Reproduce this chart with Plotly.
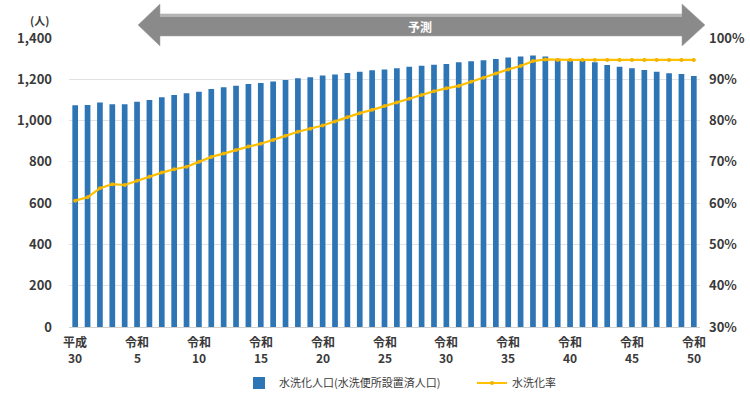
import plotly.graph_objects as go

# Fiscal years: 平成30, then 令和1 … 令和50
years = ["平成30"] + [f"令和{i}" for i in range(1, 51)]

# 水洗化人口 (people connected to flush toilets)
flush_population = [
    1074, 1076, 1087, 1079, 1079, 1091, 1100, 1113, 1124, 1132,
    1140, 1153, 1161, 1169, 1177, 1182, 1189, 1197, 1205, 1210,
    1218, 1223, 1231, 1237, 1244, 1248, 1253, 1261, 1266, 1271,
    1274, 1282, 1287, 1292, 1298, 1305, 1310, 1315, 1310, 1299,
    1293, 1290, 1282, 1269, 1261, 1253, 1245, 1237, 1229, 1226,
    1216,
]

# 水洗化率 (%)
flush_rate = [
    60.6, 61.4, 63.6, 64.6, 64.4, 65.4, 66.4, 67.4, 68.2, 68.8,
    70.0, 71.2, 72.0, 72.9, 73.7, 74.4, 75.3, 76.3, 77.3, 78.0,
    78.8, 79.8, 80.8, 81.8, 82.6, 83.5, 84.4, 85.3, 86.2, 87.1,
    87.8, 88.4, 89.4, 90.4, 91.4, 92.4, 93.2, 94.4, 94.8, 94.7,
    94.7, 94.7, 94.7, 94.7, 94.7, 94.7, 94.7, 94.7, 94.7, 94.7,
    94.7,
]

# labelled years: era name on the first row, year number on the second
tick_years = years[::5]
tick_era = ["平成"] + ["令和"] * 10
tick_num = ["30"] + [str(i) for i in range(5, 51, 5)]

left_ticks = [0, 200, 400, 600, 800, 1000, 1200, 1400]
right_ticks = [30, 40, 50, 60, 70, 80, 90, 100]
right_text = [f"{v}%" for v in right_ticks]

FONT = "Noto Sans CJK JP"
TEXT = "#3A3A3A"

# plot-area geometry in pixels (used to place the forecast arrow)
W, H = 750, 404
L, R, T, B = 69, 50, 38, 77
pw, ph = W - L - R, H - T - B


def px(x):
    return (x - L) / pw


def py(y):
    return (H - B - y) / ph


fig = go.Figure()

fig.add_trace(go.Bar(
    x=years, y=flush_population,
    name="水洗化人口(水洗便所設置済人口)",
    marker=dict(color="#2E75B6", line=dict(width=0)),
    yaxis="y",
))

fig.add_trace(go.Scatter(
    x=years, y=flush_rate,
    name="水洗化率",
    mode="lines+markers",
    line=dict(color="#FFC000", width=2.2),
    marker=dict(color="#F2B200", size=4),
    yaxis="y2",
))

# double-headed forecast arrow above the plot
pts = [(138, 25), (160, 4), (160, 14), (682, 14), (682, 4), (705, 25),
       (682, 46), (682, 36), (160, 36), (160, 46)]
path = "M " + " L ".join(f"{px(x):.4f},{py(y):.4f}" for x, y in pts) + " Z"
fig.add_shape(type="path", path=path, xref="paper", yref="paper",
              fillcolor="#8A8A8A", line=dict(color="#A0A0A0", width=0.5),
              layer="below")
# lighter top edge of the shaft
fig.add_shape(type="rect", xref="paper", yref="paper",
              x0=px(160), x1=px(682), y0=py(17), y1=py(14),
              fillcolor="#B4B4B4", line=dict(width=0), layer="below")

fig.add_annotation(text="<b>予測</b>", x=px(420), y=py(26), xref="paper",
                   yref="paper", showarrow=False, xanchor="center",
                   yanchor="middle",
                   font=dict(family=FONT, size=12, color="white"))
fig.add_annotation(text="(人)", x=px(39), y=py(20), xref="paper",
                   yref="paper", showarrow=False, xanchor="center",
                   yanchor="middle",
                   font=dict(family=FONT, size=11, color=TEXT, weight="bold"))

# two-row year labels under the axis
for yr, era, num in zip(tick_years, tick_era, tick_num):
    fig.add_annotation(text=era, x=yr, y=py(341), xref="x", yref="paper",
                       showarrow=False, yanchor="middle",
                       font=dict(family=FONT, size=12, color=TEXT,
                                 weight="bold"))
    fig.add_annotation(text=num, x=yr, y=py(357), xref="x", yref="paper",
                       showarrow=False, yanchor="middle",
                       font=dict(family=FONT, size=12, color=TEXT,
                                 weight="bold"))

fig.update_layout(
    width=W, height=H,
    margin=dict(l=L, r=R, t=T, b=B, autoexpand=False),
    paper_bgcolor="white", plot_bgcolor="white",
    bargap=0.54,
    showlegend=True,
    legend=dict(orientation="h", x=px(239), xanchor="left", y=py(383),
                yanchor="middle", font=dict(family=FONT, size=11, color=TEXT),
                entrywidth=188, itemwidth=30),
    xaxis=dict(
        type="category", range=[-0.5, 50.5], showticklabels=False,
        showgrid=False, ticks="",
        showline=True, linecolor="#D0D0D0", linewidth=1, automargin=False,
    ),
    yaxis=dict(
        range=[0, 1400], tickvals=left_ticks, tickformat=",",
        showgrid=True, gridcolor="#E2E2E2", gridwidth=1, zeroline=False,
        ticks="", ticklabelstandoff=16, automargin=False,
        tickfont=dict(family=FONT, size=13, color=TEXT, weight="bold"),
    ),
    yaxis2=dict(
        range=[30, 100], tickvals=right_ticks, ticktext=right_text,
        overlaying="y", side="right", showgrid=False, zeroline=False,
        ticks="", ticklabelstandoff=8, automargin=False,
        tickfont=dict(family=FONT, size=13, color=TEXT, weight="bold"),
    ),
)

fig.write_html("out.html")
